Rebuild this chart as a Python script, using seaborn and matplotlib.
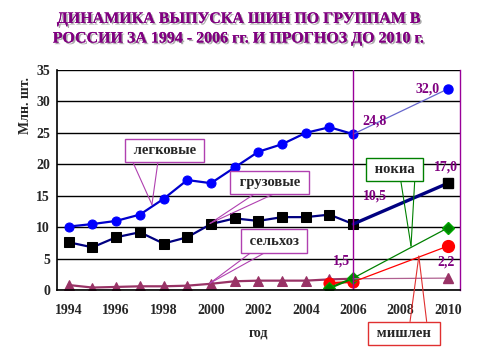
"""
Динамика выпуска шин по группам в России, 1994-2006 и прогноз до 2010.
"""
import numpy as np
import pandas as pd
import seaborn as sns
import matplotlib
matplotlib.use("Agg")
import matplotlib.pyplot as plt
import matplotlib.patheffects as pe

# ==========================================
# ДАННЫЕ
# ==========================================
years = list(range(1994, 2007))
legkovye = [10.1, 10.5, 11.0, 12.0, 14.5, 17.5, 17.0, 19.5, 22.0, 23.2, 25.0, 25.9, 24.8]
gruzovye = [7.6, 6.8, 8.4, 9.2, 7.4, 8.4, 10.5, 11.4, 11.0, 11.6, 11.6, 12.0, 10.5]
selhoz = [0.8, 0.4, 0.5, 0.6, 0.6, 0.7, 1.0, 1.4, 1.5, 1.5, 1.5, 1.7, 1.8]
nokia_years = [2005, 2006]
nokia = [0.3, 1.9]
michelin_years = [2005, 2006]
michelin = [1.1, 1.3]

# прогноз 2006 -> 2010
prog_years = [2006, 2010]
prog_legkovye = [24.8, 32.0]
prog_gruzovye = [10.5, 17.0]
prog_selhoz = [1.8, 1.9]
prog_nokia = [1.9, 9.9]
prog_michelin = [1.3, 7.0]

# подписи значений: (текст, x, y)
value_labels = [("32,0", 2009.15, 32.0), ("24,8", 2006.92, 26.9), ("17,0", 2009.91, 19.5),
                ("10,5", 2006.94, 14.9), ("1,5", 2005.5, 4.6), ("2,2", 2009.93, 4.4)]

PURPLE = "#800080"
SERIF = ["Liberation Serif", "DejaVu Serif"]

sns.set_style("white")
plt.rcParams["font.family"] = SERIF
plt.rcParams["font.weight"] = "bold"

fig = plt.figure(figsize=(4.78, 3.59), dpi=100)
ax = fig.add_axes([0.119, 0.192, 0.843, 0.613])

# основные ряды
sns.lineplot(x=years, y=legkovye, ax=ax, color="#0000cc", lw=1.6, marker="o", ms=6.5,
             markerfacecolor="#0000ff", markeredgecolor="#0000ff")
sns.lineplot(x=years, y=gruzovye, ax=ax, color="#000080", lw=1.6, marker="s", ms=7,
             markerfacecolor="black", markeredgecolor="black")
sns.lineplot(x=years, y=selhoz, ax=ax, color="#993366", lw=1.6, marker="^", ms=6.5,
             markerfacecolor="#993366", markeredgecolor="#993366")
sns.lineplot(x=michelin_years, y=michelin, ax=ax, color="red", lw=1.6, marker="o", ms=8,
             markerfacecolor="red", markeredgecolor="red")
sns.lineplot(x=nokia_years, y=nokia, ax=ax, color="#008000", lw=1.6, marker="D", ms=6,
             markerfacecolor="#008000", markeredgecolor="#00aa00")

# прогнозные линии
sns.lineplot(x=prog_years, y=prog_legkovye, ax=ax, color="#6666cc", lw=0.9)
sns.lineplot(x=prog_years, y=prog_gruzovye, ax=ax, color="#000080", lw=2.4)
sns.lineplot(x=prog_years, y=prog_selhoz, ax=ax, color="#b06090", lw=0.9)
sns.lineplot(x=prog_years, y=prog_nokia, ax=ax, color="#008000", lw=0.9)
sns.lineplot(x=prog_years, y=prog_michelin, ax=ax, color="red", lw=0.9)

# точки 2010
ax.plot(prog_years[1:], prog_legkovye[1:], "o", color="#0000ff", ms=6.5)
ax.plot(prog_years[1:], prog_gruzovye[1:], "s", color="black", ms=7.5)
ax.plot(prog_years[1:], prog_selhoz[1:], "^", color="#993366", ms=6.5)
ax.plot(prog_years[1:], prog_nokia[1:], "D", color="#008000", mec="#00aa00", ms=6)
ax.plot(prog_years[1:], prog_michelin[1:], "o", color="red", ms=8.5)

# вертикальная линия 2006
ax.axvline(2006, color="#990099", lw=1)

# оси
ax.set_xlim(1993.5, 2010.5)
ax.set_ylim(0, 35)
ax.set_yticks(range(0, 36, 5))
ax.grid(axis="y", color="black", lw=1)
ax.set_axisbelow(True)
ax.set_xticks(range(1994, 2011, 2))
ax.set_xticks(np.arange(1993.5, 2011, 1), minor=True)
ax.tick_params(axis="x", which="major", length=0, pad=10, labelsize=10)
ax.tick_params(axis="x", which="minor", length=5, width=1, color="black", direction="out")
ax.tick_params(axis="y", length=4, width=1, color="black", direction="out", labelsize=10, pad=1)
for lab in ax.get_xticklabels() + ax.get_yticklabels():
    lab.set_fontweight("bold")
for s in ["left", "bottom"]:
    ax.spines[s].set_color("black")
    ax.spines[s].set_linewidth(1.2)
ax.spines["top"].set_visible(False)
ax.spines["right"].set_color("#990099")
ax.spines["right"].set_linewidth(1)

ax.set_xlabel("год", fontsize=10, fontweight="bold", labelpad=7)
ax.text(-0.079, 0.84, "Млн. шт.", transform=ax.transAxes, rotation=90, ha="center", va="center",
        fontsize=10, fontweight="bold")

# подписи значений
for txt, x, y in value_labels:
    ax.text(x, y, txt, color=PURPLE, fontsize=10, fontweight="bold", ha="center", va="center")

# выноски
def callout(text, cx, cy, base, apex, edge):
    ax.text(cx, cy, " " + text + " ", ha="center", va="center", fontsize=10.5, fontweight="bold",
            bbox=dict(boxstyle="square,pad=0.35", fc="white", ec=edge, lw=1), zorder=6, clip_on=False)
    for bx, by in base:
        ax.plot([bx, apex[0]], [by, apex[1]], color=edge, lw=0.8, zorder=5, clip_on=False)

callout("легковые", 1998.04, 22.2, [(1996.71, 20.3), (1997.76, 20.3)], (1997.51, 13.6), "#b040b0")
callout("грузовые", 2002.47, 17.1, [(2001.8, 15.2), (2002.6, 15.2)], (1999.96, 10.6), "#b040b0")
callout("сельхоз", 2002.66, 7.8, [(2001.7, 6.0), (2002.3, 6.0)], (1999.96, 1.1), "#b040b0")
callout("нокиа", 2007.74, 19.2, [(2008.0, 17.6), (2008.6, 17.6)], (2008.44, 7.0), "#008000")
callout("мишлен", 2008.14, -6.9, [(2008.4, -5.0), (2009.1, -5.0)], (2008.77, 5.4), "#e03030")

# заголовок
fig.text(0.5, 0.92, "ДИНАМИКА ВЫПУСКА ШИН ПО ГРУППАМ В\nРОССИИ ЗА 1994 - 2006 гг. И ПРОГНОЗ ДО 2010 г.",
         ha="center", va="center", color=PURPLE, fontsize=11.5, fontweight="bold", linespacing=1.3,
         path_effects=[pe.withSimplePatchShadow(offset=(1.2, -1.2), shadow_rgbFace="#888888", alpha=0.7),
                       pe.Normal()])

fig.savefig("out.png", dpi=100)
